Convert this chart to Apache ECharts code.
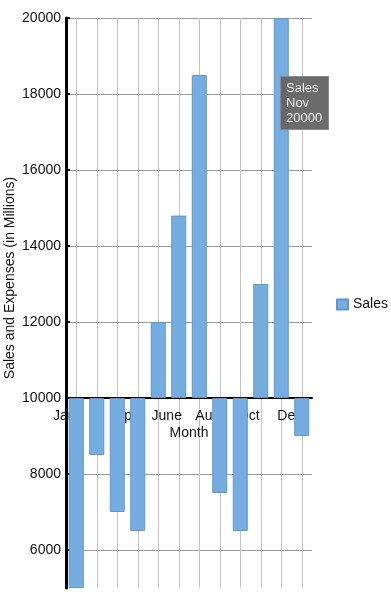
<!DOCTYPE html>
<html>
<head>
<meta charset="utf-8">
<script src="https://cdn.jsdelivr.net/npm/echarts@6/dist/echarts.min.js"></script>
<style>
html,body{margin:0;padding:0;background:#fff;}
#chart{width:391px;height:609px;}
</style>
</head>
<body>
<div id="chart"></div>
<script>
// ---- data ----
const months = ['Jan','Feb','Mar','Apr','May','June','July','Aug','Sep','Oct','Nov','Dec'];
const salesValues = [5000, 8500, 7000, 6500, 12000, 14800, 18500, 7500, 6500, 13000, 20000, 9000];
const shownTickLabels = ['Jan','Apr','June','Aug','Oct','Dec'];
const seriesName = 'Sales';
const yMin = 5000, yMax = 20000, baseValue = 10000;
const highlightIndex = 10;

const FONT = '"Liberation Sans", Arial, sans-serif';
const chart = echarts.init(document.getElementById('chart'), null, {renderer: 'canvas'});

const option = {
  animation: false,
  backgroundColor: '#fff',
  textStyle: {fontFamily: FONT},
  grid: {left: 66, top: 18, right: 79, bottom: 21, containLabel: false, outerBoundsMode: 'none'},
  legend: {
    data: [seriesName], orient: 'vertical', left: 331, top: 'middle',
    icon: 'rect', itemWidth: 11, itemHeight: 10, itemGap: 4,
    textStyle: {fontFamily: FONT, fontSize: 14, color: '#111'}
  },
  tooltip: {
    trigger: 'item', alwaysShowContent: true, transitionDuration: 0,
    backgroundColor: 'rgba(100,100,100,0.95)', borderColor: '#8a8a8a', borderWidth: 1, borderRadius: 0,
    padding: [3, 6, 4, 5],
    extraCssText: 'box-shadow:none;line-height:15px;',
    textStyle: {color: '#eee', fontSize: 13, fontFamily: FONT},
    formatter: p => `${p.seriesName}<br/>${p.name}<br/>${salesValues[p.dataIndex]}`,
    position: (point, params, dom, rect) => rect ? [rect.x + rect.width / 2 - 1, rect.y + 58] : point
  },
  xAxis: {
    type: 'category', data: months, position: 'bottom', offset: 0,
    name: 'Month', nameLocation: 'middle', nameGap: 28, nameMoveOverlap: false,
    nameTextStyle: {fontFamily: FONT, fontSize: 14, color: '#111'},
    axisLine: {show: true, onZero: false, lineStyle: {color: '#000', width: 2}},
    axisTick: {show: false},
    axisLabel: {
      interval: (idx, val) => shownTickLabels.indexOf(val) >= 0,
      margin: 11, padding: [0, 24, 0, 0],
      fontFamily: FONT, fontSize: 14, color: '#111'
    },
    splitLine: {show: true, interval: 0, alignWithLabel: true, lineStyle: {color: '#c4c4c4', width: 1}}
  },
  yAxis: {
    type: 'value', min: yMin, max: yMax, splitNumber: 7, startValue: baseValue,
    name: 'Sales and Expenses (in Millions)', nameLocation: 'middle', nameGap: 49, nameMoveOverlap: false,
    nameTextStyle: {fontFamily: FONT, fontSize: 14, color: '#111', padding: [0, 0, 0, 50]},
    axisLine: {show: true, lineStyle: {color: '#000', width: 3}},
    axisTick: {show: true, inside: true, length: 4, lineStyle: {color: '#000', width: 2}},
    axisLabel: {margin: 5, showMinLabel: false, formatter: v => String(v), fontFamily: FONT, fontSize: 14, color: '#111'},
    splitLine: {show: true, showMinLine: false, lineStyle: {color: '#9a9a9a', width: 1}}
  },
  series: [{
    name: seriesName, type: 'bar', data: salesValues, barWidth: 15,
    itemStyle: {color: '#76ade0', borderColor: '#5f97cc', borderWidth: 1}
  }]
};
chart.setOption(option);

// place the category axis on the base value of the value axis
const baseY = chart.convertToPixel({yAxisIndex: 0}, baseValue);
const bottomY = chart.convertToPixel({yAxisIndex: 0}, yMin);
chart.setOption({xAxis: {offset: -(bottomY - baseY)}});

chart.dispatchAction({type: 'showTip', seriesIndex: 0, dataIndex: highlightIndex});
</script>
</body>
</html>
